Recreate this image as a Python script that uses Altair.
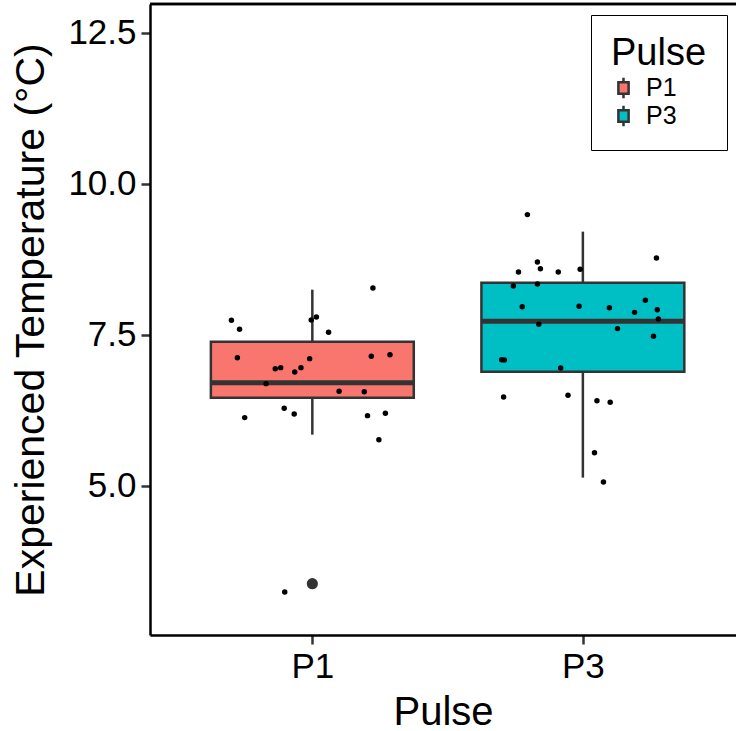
import altair as alt
import pandas as pd

# Pulse groups and their fill colours
groups = ["P1", "P3"]
fill_colors = ["#F8766D", "#00BFC4"]

# Box-plot statistics per pulse (°C)
q1 = [6.456, 6.886]
median = [6.704, 7.719]
q3 = [7.383, 8.360]
whisker_lo = [5.843, 5.131]
whisker_hi = [8.244, 9.205]

# Points beyond the whiskers
outlier_group = ["P1"]
outlier_temp = [3.375]

# Individual observations: horizontal jitter (in group units) and temperature
p1_jitter = [-0.299, -0.269, -0.277, -0.137, -0.117, -0.065, -0.042, -0.010,
             -0.004, 0.015, 0.060, 0.224, 0.218, 0.287, -0.171, 0.099,
             0.192, -0.250, -0.104, -0.067, 0.204, 0.270, 0.246, -0.102]
p1_temp = [7.736, 7.587, 7.118, 6.936, 6.953, 6.881, 6.953, 7.102,
           7.743, 7.792, 7.537, 8.273, 7.140, 7.168, 6.688, 6.560,
           6.555, 6.125, 6.279, 6.186, 6.158, 6.196, 5.760, 3.238]
p3_jitter = [-0.205, -0.168, -0.238, -0.157, -0.091, -0.010, 0.272, -0.257,
             -0.168, -0.224, -0.014, 0.098, 0.231, 0.191, 0.275, 0.279,
             -0.163, 0.128, 0.261, -0.300, -0.290, -0.082, -0.293, -0.055,
             0.052, 0.101, 0.043, 0.076]
p3_temp = [9.487, 8.703, 8.538, 8.592, 8.538, 8.581, 8.769, 8.306,
           8.339, 7.963, 7.968, 7.946, 8.067, 7.868, 7.913, 7.759,
           7.670, 7.599, 7.471, 7.085, 7.080, 6.948, 6.467, 6.494,
           6.406, 6.378, 5.545, 5.060]

y_ticks = [5.0, 7.5, 10.0, 12.5]
box_half_width = 0.375
FONT = "Liberation Sans"
DARK = "#333333"

pos = {g: i + 1 for i, g in enumerate(groups)}

boxes = pd.DataFrame({
    "Pulse": groups,
    "pos": [pos[g] for g in groups],
    "left": [pos[g] - box_half_width for g in groups],
    "right": [pos[g] + box_half_width for g in groups],
    "q1": q1, "median": median, "q3": q3,
    "lo": whisker_lo, "hi": whisker_hi,
})

outliers = pd.DataFrame({
    "pos": [pos[g] for g in outlier_group],
    "temp": outlier_temp,
})

points = pd.DataFrame({
    "x": [pos["P1"] + j for j in p1_jitter] + [pos["P3"] + j for j in p3_jitter],
    "temp": p1_temp + p3_temp,
})

x_scale = alt.Scale(domain=[0.4, 2.566], nice=False, zero=False)
y_scale = alt.Scale(domain=[2.525, 12.975], nice=False, zero=False)

label_expr = " : ".join(
    [f"datum.value == {pos[g]} ? '{g}'" for g in groups[:-1]] + [f"'{groups[-1]}'"]
)

x_axis = alt.Axis(
    values=[pos[g] for g in groups], labelExpr=label_expr, title="Pulse",
    grid=False, domainColor="black", domainWidth=2.5, tickColor=DARK,
    tickWidth=2.5, tickSize=9, labelFontSize=35, titleFontSize=40,
    labelColor="black", titleColor="black", labelPadding=5, titlePadding=8,
    titleFontWeight="normal", labelFont=FONT, titleFont=FONT,
)
y_axis = alt.Axis(
    values=y_ticks, format=".1f", title="Experienced Temperature (°C)",
    grid=False, domainColor="black", domainWidth=2.5, tickColor=DARK,
    tickWidth=2.5, tickSize=9, labelFontSize=35, titleFontSize=41,
    labelColor="black", titleColor="black", labelPadding=5, titlePadding=15,
    titleFontWeight="normal", labelFont=FONT, titleFont=FONT,
)

base_box = alt.Chart(boxes)

whisker_low = base_box.mark_rule(color=DARK, strokeWidth=2.5).encode(
    x=alt.X("pos:Q", scale=x_scale, axis=x_axis),
    y=alt.Y("lo:Q", scale=y_scale, axis=y_axis),
    y2="q1:Q",
)
whisker_high = base_box.mark_rule(color=DARK, strokeWidth=2.5).encode(
    x=alt.X("pos:Q", scale=x_scale),
    y=alt.Y("q3:Q", scale=y_scale),
    y2="hi:Q",
)

box_glyph = "M-0.5,-0.55H0.5V0.55H-0.5Z M0,-0.55V-1 M0,0.55V1"

box = base_box.mark_bar(stroke=DARK, strokeWidth=2.5, opacity=1).encode(
    x=alt.X("left:Q", scale=x_scale),
    x2="right:Q",
    y=alt.Y("q1:Q", scale=y_scale),
    y2="q3:Q",
    color=alt.Color(
        "Pulse:N",
        scale=alt.Scale(domain=groups, range=fill_colors),
        legend=alt.Legend(
            title="Pulse", orient="none", legendX=441, legendY=11,
            strokeColor="black", padding=20,
            titleFontSize=38, titleFont=FONT, titleFontWeight="normal",
            titleColor="black", titlePadding=1,
            labelFontSize=25, labelFont=FONT, labelColor="black",
            symbolType=box_glyph, symbolSize=420, symbolStrokeColor=DARK,
            symbolStrokeWidth=2.5, symbolOpacity=1, rowPadding=0, labelOffset=10,
            clipHeight=28,
        ),
    ),
)

median_line = base_box.mark_rule(color=DARK, strokeWidth=5).encode(
    x=alt.X("left:Q", scale=x_scale),
    x2="right:Q",
    y=alt.Y("median:Q", scale=y_scale),
)

outlier_pts = alt.Chart(outliers).mark_circle(color=DARK, size=125, opacity=1).encode(
    x=alt.X("pos:Q", scale=x_scale),
    y=alt.Y("temp:Q", scale=y_scale),
)

jitter_pts = alt.Chart(points).mark_circle(color="black", size=30, opacity=1).encode(
    x=alt.X("x:Q", scale=x_scale),
    y=alt.Y("temp:Q", scale=y_scale),
)

# panel border along the top edge
top_border = alt.Chart(boxes).mark_rule(color="black", strokeWidth=2.5).encode(
    x=alt.value(0), x2=alt.value(586), y=alt.value(0),
)

chart = alt.layer(
    whisker_low, whisker_high, box, median_line, outlier_pts, jitter_pts, top_border
).properties(
    width=586, height=631,
    autosize=alt.AutoSizeParams(type="none"),
    padding={"left": 150, "top": 4, "right": 0, "bottom": 96},
).configure_view(stroke=None).configure(background="white")

chart.save("out.html", embed_options={"renderer": "svg", "actions": False})
